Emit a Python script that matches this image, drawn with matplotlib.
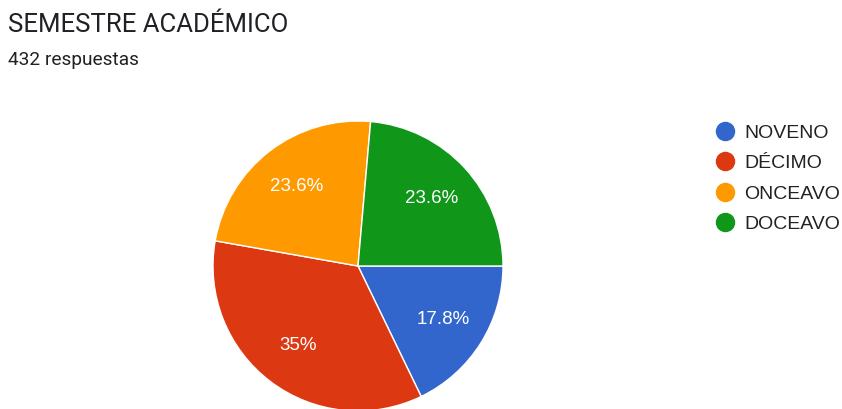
import matplotlib
matplotlib.use("Agg")
import matplotlib.pyplot as plt
from matplotlib.lines import Line2D
import numpy as np

# data
labels = ["NOVENO", "DÉCIMO", "ONCEAVO", "DOCEAVO"]
counts = [77, 151, 102, 102]
pct_text = ["17.8%", "35%", "23.6%", "23.6%"]
colors = ["#3366cc", "#dc3912", "#ff9900", "#109618"]

title = "SEMESTRE ACADÉMICO"
subtitle = "432 respuestas"

fig = plt.figure(figsize=(8.42, 4.09), dpi=100)
fig.patch.set_facecolor("white")

fig.text(8/842, 1 - 25/409, title, fontsize=18.5, family=["Roboto", "DejaVu Sans"],
         color="#202124", va="center", ha="left")
fig.text(8/842, 1 - 60/409, subtitle, fontsize=13.8, family=["Roboto", "DejaVu Sans"],
         color="#202124", va="center", ha="left")

# pie axes: center ~ (358,266), radius ~145 px
ax = fig.add_axes([213/842, (409-411)/409, 290/842, 290/409])
wedges, _ = ax.pie(counts, colors=colors, startangle=0, counterclock=False,
                   wedgeprops=dict(edgecolor="white", linewidth=1))
ax.set_aspect("equal")
ax.set_xlim(-1, 1)
ax.set_ylim(-1, 1)

# percent labels
total = sum(counts)
ang = 0.0
for c, t in zip(counts, pct_text):
    mid = ang - 360 * c / total / 2
    ang -= 360 * c / total
    r = 0.69
    ax.text(r*np.cos(np.radians(mid)), r*np.sin(np.radians(mid)), t,
            ha="center", va="center", color="white", fontsize=13.5,
            family=["Liberation Sans", "DejaVu Sans"])

handles = [Line2D([], [], marker="o", linestyle="none", markersize=13,
                  markerfacecolor=col, markeredgecolor=col) for col in colors]
fig.legend(handles, labels, loc="upper left", bbox_to_anchor=(701/842, 1 - 114.5/409),
           frameon=False, prop={"family": ["Liberation Sans", "DejaVu Sans"], "size": 14},
           handletextpad=0.23, labelspacing=0.66, borderpad=0, handlelength=1.5,
           labelcolor="#222222")

fig.savefig("out.png", dpi=100, facecolor="white")
